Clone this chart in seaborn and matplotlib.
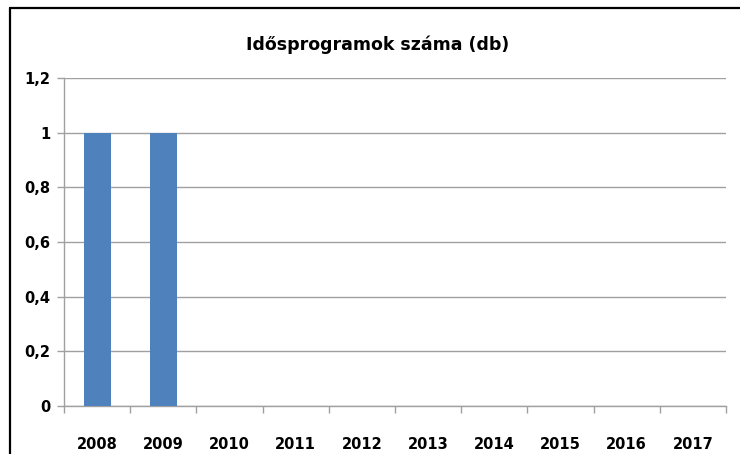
import matplotlib
matplotlib.use("Agg")
import matplotlib.pyplot as plt
from matplotlib.lines import Line2D
from matplotlib.ticker import FixedLocator, FuncFormatter
import seaborn as sns
import pandas as pd

years = ["2008", "2009", "2010", "2011", "2012", "2013", "2014", "2015", "2016", "2017"]
counts = [1, 1, 0, 0, 0, 0, 0, 0, 0, 0]
title = "Idősprogramok száma (db)"
y_ticks = [0, 0.2, 0.4, 0.6, 0.8, 1.0, 1.2]

df = pd.DataFrame({"ev": years, "db": counts})

sns.set_style("white")
plt.rcParams["font.family"] = ["DejaVu Sans"]
plt.rcParams["text.color"] = "black"
plt.rcParams["xtick.color"] = "black"
plt.rcParams["ytick.color"] = "black"

fig = plt.figure(figsize=(7.40, 4.54), dpi=100)
ax = fig.add_axes([64 / 740, 1 - 406 / 454, (726 - 64) / 740, (406 - 78) / 454])
ax.set_axisbelow(True)

sns.barplot(data=df, x="ev", y="db", color="#4F81BD", width=0.41,
            saturation=1, edgecolor="none", linewidth=0, ax=ax, zorder=3)

ax.set_ylim(0, 1.2)
ax.set_xlim(-0.5, len(years) - 0.5)
ax.yaxis.set_major_locator(FixedLocator(y_ticks))
ax.yaxis.set_major_formatter(FuncFormatter(
    lambda v, p: ("%g" % round(v, 1)).replace(".", ",")))
ax.grid(axis="y", color="#a0a0a0", linewidth=1.0, zorder=0)
ax.set_xlabel("")
ax.set_ylabel("")

for side in ["top", "right"]:
    ax.spines[side].set_visible(False)
for side in ["left", "bottom"]:
    ax.spines[side].set_color("#a0a0a0")
    ax.spines[side].set_linewidth(1.0)

# category-boundary ticks on the x axis
ax.set_xticks([i - 0.5 for i in range(len(years) + 1)], minor=True)
ax.tick_params(axis="x", which="minor", bottom=True, length=5, color="#a0a0a0",
               width=1.0, direction="out")
ax.tick_params(axis="x", which="major", bottom=True, length=0, pad=22,
               labelsize=10.5, labelcolor="black")
ax.tick_params(axis="y", which="major", left=True, length=5, color="#a0a0a0",
               width=1.0, direction="out", pad=5, labelsize=10.5, labelcolor="black")
for lbl in ax.get_xticklabels() + ax.get_yticklabels():
    lbl.set_fontweight("bold")

fig.text(378 / 740, 1 - 45 / 454, title, ha="center", va="center",
         fontsize=12.5, fontweight="bold", color="black")

# outer chart frame
fig.add_artist(Line2D([10 / 740, 10 / 740], [0, 1 - 8 / 454], color="black",
                      linewidth=1.6, transform=fig.transFigure))
fig.add_artist(Line2D([10 / 740, 1], [1 - 8 / 454, 1 - 8 / 454], color="black",
                      linewidth=1.6, transform=fig.transFigure))

fig.savefig("out.png", dpi=100)
